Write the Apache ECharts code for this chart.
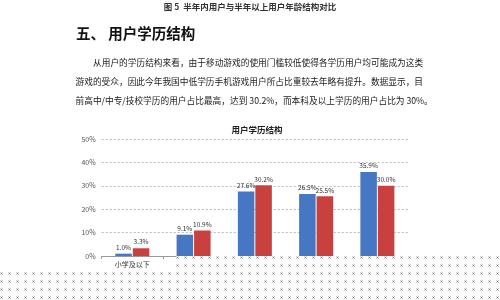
<!DOCTYPE html>
<html><head><meta charset="utf-8">
<script src="https://cdn.jsdelivr.net/npm/echarts@6/dist/echarts.min.js"></script>
<style>html,body{margin:0;padding:0;background:#fff}#c{width:500px;height:300px}</style>
</head><body><div id="c"></div>
<script>
var categories = ['小学及以下', '初中', '高中/中专/技校', '大专', '本科及以上'];
var lastYear = [1.0, 9.1, 27.6, 26.5, 35.9];
var thisYear = [3.3, 10.9, 30.2, 25.5, 30.0];
var yTicks = [0, 10, 20, 30, 40, 50];
var figCaption = '图 5  半年内用户与半年以上用户年龄结构对比';
var heading = '五、 用户学历结构';
var paraLines = [
  '从用户的学历结构来看，由于移动游戏的使用门槛较低使得各学历用户均可能成为这类',
  '游戏的受众，因此今年我国中低学历手机游戏用户所占比重较去年略有提升。数据显示，目',
  '前高中/中专/技校学历的用户占比最高，达到 30.2%，而本科及以上学历的用户占比为 30%。'
];
var chartTitle = '用户学历结构';

// dotted overlay pattern
var pc = document.createElement('canvas');
pc.width = 8; pc.height = 8;
var pctx = pc.getContext('2d');
pctx.fillStyle = '#fff'; pctx.fillRect(0,0,8,8);
pctx.fillStyle = '#c4c4c4';
pctx.fillRect(0,0,1,1); pctx.fillRect(2,0,1,1); pctx.fillRect(0,2,1,1); pctx.fillRect(2,2,1,1);
pctx.fillStyle = '#6a6a6a';
pctx.fillRect(1,1,1,1);

var font = '"Noto Sans CJK SC", sans-serif';
var chart = echarts.init(document.getElementById('c'), null, {renderer: 'canvas'});
var graphics = [
  {type:'text', left:'center', top:3, style:{text:figCaption, font:'bold 8.5px ' + font, fill:'#333'}},
  {type:'text', x:76, y:26, style:{text:heading, font:'bold 14.5px ' + font, fill:'#111'}}
];
var lineY = [58, 77, 96];
paraLines.forEach(function(t, i){
  graphics.push({type:'text', x: i === 0 ? 93 : 75.5, y: lineY[i], style:{text:t, font:'8.7px ' + font, fill:'#1a1a1a'}});
});
graphics.push({
  type:'polygon', z:100,
  shape:{points:[[0,270],[176,270],[176,256],[500,256],[500,300],[0,300]]},
  style:{fill:{image:pc, repeat:'repeat'}, stroke:null}
});

var labelCfg = {show:true, position:'top', distance:3, fontSize:6.5, color:'#333', fontFamily:font,
  formatter:function(p){return p.value.toFixed(1)+'%';}};

chart.setOption({
  animation:false,
  backgroundColor:'#fff',
  title:{text:chartTitle, left:252, textAlign:'center', top:121,
    textStyle:{fontSize:8.5, fontWeight:'bold', color:'#222', fontFamily:font}},
  graphic:graphics,
  grid:{left:101.7, right:92, top:139, bottom:44},
  xAxis:{type:'category', data:categories,
    axisLine:{lineStyle:{color:'#999', width:1}},
    axisTick:{show:true, length:3, lineStyle:{color:'#999'}},
    axisLabel:{fontSize:7, color:'#333', margin:5, fontFamily:font, interval:0}},
  yAxis:{type:'value', min:0, max:50, interval:10,
    axisLine:{show:false}, axisTick:{show:false},
    axisLabel:{fontSize:7, color:'#555', margin:6, fontFamily:font, formatter:'{value}%'},
    splitLine:{lineStyle:{color:'#bbb', type:[2,2], width:1}}},
  series:[
    {name:'去年', type:'bar', data:lastYear, barWidth:16.5, barGap:'6%',
      itemStyle:{color:'#4677c2'}, label:labelCfg},
    {name:'今年', type:'bar', data:thisYear, barWidth:16.5,
      itemStyle:{color:'#c8413e'}, label:labelCfg}
  ]
});
</script></body></html>
